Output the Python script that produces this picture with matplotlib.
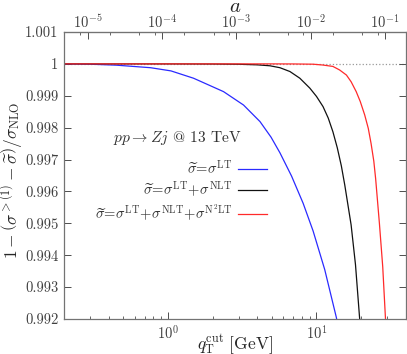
import numpy as np
import matplotlib
matplotlib.use("Agg")
import matplotlib.pyplot as plt
from matplotlib.ticker import LogLocator, FixedLocator, FuncFormatter, NullFormatter, LogFormatterMathtext

plt.rcParams['font.family'] = 'serif'
plt.rcParams['font.serif'] = ['cmr10']
plt.rcParams['mathtext.fontset'] = 'cm'
plt.rcParams['axes.formatter.use_mathtext'] = True

# ---- data (deviation from 1, in units of 1e-3) ----
q_lt = [0.2, 0.3, 0.45, 0.766, 1.05, 1.49, 2.37, 3.23, 4.17, 4.95, 5.68, 6.8, 8.13, 9.49, 11.36, 13.6, 14.2]
d_lt = [0.0, 0.01, 0.04, 0.12, 0.22, 0.45, 0.87, 1.29, 1.81, 2.3, 2.79, 3.52, 4.37, 5.24, 6.45, 7.95, 8.4]

q_nlt = [0.2, 1.0, 2.0, 3.0, 4.0, 4.87, 5.68, 6.63, 7.73, 9.02, 10.0, 11.07, 12.0, 12.9, 13.8, 14.7, 15.5, 17.1, 18.3, 19.5, 20.0]
d_nlt = [0.0, 0.0, 0.004, 0.012, 0.03, 0.06, 0.12, 0.24, 0.45, 0.76, 1.02, 1.34, 1.70, 2.13, 2.63, 3.2, 3.8, 5.05, 6.3, 7.97, 8.6]

q_n2lt = [0.2, 5.0, 7.0, 9.49, 11.0, 12.9, 14.3, 15.9, 17.1, 18.5, 19.7, 21.1, 22.3, 23.3, 24.3, 25.0, 26.5, 27.9, 29.1, 29.6]
d_n2lt = [0.0, 0.0, 0.002, 0.01, 0.035, 0.08, 0.19, 0.35, 0.56, 0.87, 1.18, 1.6, 2.02, 2.5, 3.05, 3.6, 5.0, 6.36, 7.97, 8.6]

yticks = [0.992, 0.993, 0.994, 0.995, 0.996, 0.997, 0.998, 0.999, 1.0, 1.001]
a_major = [1e-5, 1e-4, 1e-3, 1e-2, 1e-1]
a_minor_subs = [2, 5, 8]
labels = [r"$\widetilde{\sigma}\!=\!\sigma^{\rm LT}$",
          r"$\widetilde{\sigma}\!=\!\sigma^{\rm LT}\!+\!\sigma^{\rm NLT}$",
          r"$\widetilde{\sigma}\!=\!\sigma^{\rm LT}\!+\!\sigma^{\rm NLT}\!+\!\sigma^{\rm N^2LT}$"]
colors = ['#2a2aff', '#111111', '#ff2a2a']
legend_title = r"$pp\rightarrow Zj$ @ 13 TeV"
MZ = 91.19

fig = plt.figure(figsize=(4.07, 3.54), dpi=100)
ax = fig.add_axes([0.157, 0.099, 0.8405, 0.8106])

ax.axhline(1.0, color='0.6', ls=':', lw=0.9, zorder=1)
for q, d, c, lab in zip([q_lt, q_nlt, q_n2lt], [d_lt, d_nlt, d_n2lt], colors, labels):
    ax.plot(q, 1 - np.array(d) * 1e-3, color=c, lw=0.9, label=lab, zorder=2,
            solid_joinstyle='round')

ax.set_xscale('log')
ax.set_xlim(0.2, 40)
ax.set_ylim(0.992, 1.001)
ax.set_yticks(yticks)
ax.yaxis.set_major_formatter(FuncFormatter(lambda v, p: f"{v:g}"))
ax.xaxis.set_major_locator(LogLocator(base=10))
ax.xaxis.set_minor_locator(LogLocator(base=10, subs=np.arange(2, 10)))
ax.xaxis.set_minor_formatter(NullFormatter())

ax.tick_params(which='both', direction='in', top=False, right=True, labelsize=10.5,
               colors='0.3', labelcolor='0.25')
ax.tick_params(axis='x', pad=4)
ax.tick_params(axis='y', pad=4)
ax.tick_params(which='major', length=5, width=0.7)
ax.tick_params(which='minor', length=2.5, width=0.6)
for s in ax.spines.values():
    s.set_color('0.45')
    s.set_linewidth(0.9)

sec = ax.secondary_xaxis('top', functions=(lambda q: (np.asarray(q) / MZ) ** 2,
                                           lambda a: np.sqrt(np.clip(a, 1e-30, None)) * MZ))
sec.set_xscale('log')
minor_a = [m * s for m in [1e-6] + a_major for s in a_minor_subs if 6e-6 < m * s < 0.19]
sec.xaxis.set_major_locator(FixedLocator(a_major))
sec.xaxis.set_minor_locator(FixedLocator(minor_a))
sec.xaxis.set_minor_formatter(NullFormatter())
sec.xaxis.set_major_formatter(LogFormatterMathtext())
sec.tick_params(which='both', direction='in', labelsize=10.5, colors='0.3', labelcolor='0.25', pad=0.5)
sec.tick_params(which='major', length=5, width=0.7)
sec.tick_params(which='minor', length=2.5, width=0.6)
sec.spines['top'].set_color('0.45')
fig.text(235 / 407, 1 - 7 / 354, r"$a$", fontsize=15, ha='center', va='center', color='0.15')

ax.set_xlabel(r"$q_{\rm T}^{\rm cut}\ [\mathrm{GeV}]$", fontsize=12.5, color='0.15')
ax.xaxis.set_label_coords(0.5, -(332 - 319) / 287)
ax.set_ylabel(r"$1-\left(\sigma^{>(1)}-\widetilde{\sigma}\right)/\sigma_{\rm NLO}$", fontsize=12.5, color='0.15')
ax.yaxis.set_label_coords(-(64 - 25) / 342, 0.484)

ax.text(0.333, 0.631, legend_title, transform=ax.transAxes, ha='center', va='center',
        fontsize=11.2, color='0.2')
leg = ax.legend(loc='upper right', bbox_to_anchor=(0.595, 0.555), frameon=False, markerfirst=False,
                fontsize=10.5, handlelength=2.0, handletextpad=0.4, labelspacing=0.2,
                borderaxespad=0, borderpad=0)
for t in leg.get_texts():
    t.set_color('0.2')

fig.savefig('out.png', dpi=100)
